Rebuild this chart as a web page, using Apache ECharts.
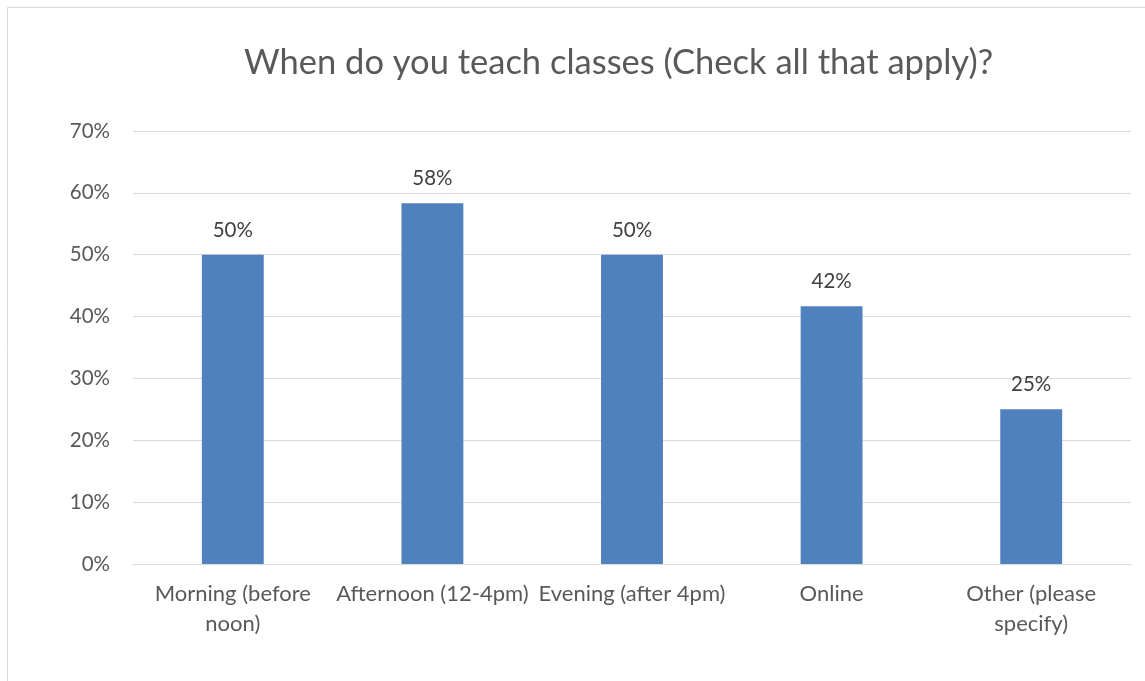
<!DOCTYPE html>
<html>
<head>
<meta charset="utf-8">
<script src="https://cdn.jsdelivr.net/npm/echarts@6/dist/echarts.min.js"></script>
<style>
  html, body { margin: 0; padding: 0; background: #fff; }
  #chart { width: 1145px; height: 681px; }
</style>
</head>
<body>
<div id="chart"></div>
<script>
// Survey answers: share of respondents per teaching time slot
const categories = [
  'Morning (before\nnoon)',
  'Afternoon (12-4pm)',
  'Evening (after 4pm)',
  'Online',
  'Other (please\nspecify)'
];
const shares = [50, 58.33, 50, 41.67, 25];
const yTicks = [0, 10, 20, 30, 40, 50, 60, 70];

const FONT = 'Lato';
const TEXT = '#595959';

const chart = echarts.init(document.getElementById('chart'), null, { renderer: 'canvas' });
chart.setOption({
  backgroundColor: '#ffffff',
  animation: false,
  title: {
    text: 'When do you teach classes (Check all that apply)?',
    left: 239,
    top: 40,
    textStyle: { fontFamily: FONT, fontSize: 34.5, fontWeight: 'normal', color: TEXT }
  },
  graphic: [{
    type: 'rect',
    shape: { x: 7.5, y: 7.5, width: 1160, height: 700 },
    style: { fill: 'none', stroke: '#d9d9d9', lineWidth: 1 },
    silent: true
  }],
  grid: { left: 133, right: 14, top: 131, bottom: 117, containLabel: false },
  xAxis: {
    type: 'category',
    data: categories,
    axisLine: { show: true, lineStyle: { color: '#d9d9d9', width: 1 } },
    axisTick: { show: false },
    axisLabel: {
      interval: 0,
      margin: 15,
      fontFamily: FONT,
      fontSize: 22,
      lineHeight: 30,
      color: TEXT
    }
  },
  yAxis: {
    type: 'value',
    min: yTicks[0],
    max: yTicks[yTicks.length - 1],
    interval: 10,
    axisLine: { show: false },
    axisTick: { show: false },
    splitLine: { lineStyle: { color: '#d9d9d9', width: 1 } },
    axisLabel: {
      margin: 23,
      fontFamily: FONT,
      fontSize: 20.5,
      color: TEXT,
      formatter: v => v + '%'
    }
  },
  series: [{
    type: 'bar',
    data: shares,
    barWidth: '31%',
    itemStyle: { color: '#4f81bd' },
    label: {
      show: true,
      position: 'top',
      distance: 14,
      fontFamily: FONT,
      fontSize: 20.5,
      color: '#404040',
      formatter: p => Math.round(p.value) + '%'
    }
  }]
});
</script>
</body>
</html>
